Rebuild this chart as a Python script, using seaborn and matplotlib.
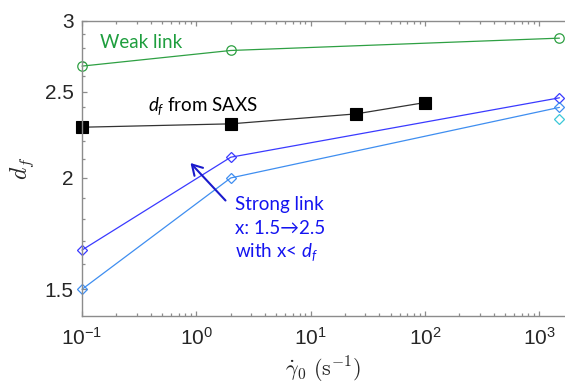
import matplotlib
matplotlib.use("Agg")
import matplotlib.pyplot as plt
import seaborn as sns
from matplotlib.ticker import FixedLocator, FuncFormatter, LogLocator, NullFormatter

# Shear rate (1/s) and fractal dimension values
shear_rate = [0.1, 2, 1500]
weak_link = [2.67, 2.78, 2.87]
saxs_rate = [0.1, 2, 25, 100]
saxs_df = [2.28, 2.30, 2.36, 2.43]
strong_high = [1.66, 2.11, 2.46]
strong_low = [1.50, 2.00, 2.40]
strong_extra_rate = [1500]
strong_extra = [2.33]

y_major = [1.5, 2, 2.5, 3]
y_minor = [1.6, 1.7, 1.8, 1.9, 2.1, 2.2, 2.3, 2.4, 2.6, 2.7, 2.8, 2.9]

sns.set_theme(style="white")
plt.rcParams["font.family"] = ["Liberation Sans", "DejaVu Sans"]
plt.rcParams["mathtext.fontset"] = "custom"
plt.rcParams["mathtext.rm"] = "Lato"
plt.rcParams["mathtext.it"] = "Lato:italic"

W, H = 565, 386
fig = plt.figure(figsize=(W / 100, H / 100), dpi=100)
ax = fig.add_axes([82 / W, 1 - 316 / H, 1 - 82 / W, (316 - 21) / H])
ax.set_xscale("log")
ax.set_yscale("log")

green = "#2ea043"
blue = "#3a3aff"
lightblue = "#3f8ef0"
cyan = "#3cc8d8"

common = dict(ax=ax, errorbar=None, clip_on=False)

sns.lineplot(x=shear_rate, y=weak_link, color=green, lw=0.9, marker="o", ms=6.8,
             mfc="none", mec=green, mew=0.9, **common)
sns.lineplot(x=saxs_rate, y=saxs_df, color="#333333", lw=0.9, marker="s", ms=8.4,
             mfc="black", mec="black", mew=0.8, **common)
sns.lineplot(x=shear_rate, y=strong_high, color=blue, lw=0.9, marker="D", ms=5.0,
             mfc="none", mec=blue, mew=0.9, **common)
sns.lineplot(x=shear_rate, y=strong_low, color=lightblue, lw=0.9, marker="D", ms=5.0,
             mfc="none", mec=lightblue, mew=0.9, **common)
sns.lineplot(x=strong_extra_rate, y=strong_extra, color=cyan, lw=0.9, marker="D", ms=5.0,
             mfc="none", mec=cyan, mew=0.9, **common)

ax.set_xlim(0.1, 10 ** 3.2248)
ax.set_ylim(1.4, 3.0)

ax.xaxis.set_major_locator(LogLocator(base=10, numticks=10))
ax.xaxis.set_minor_locator(LogLocator(base=10, subs=range(2, 10), numticks=50))
ax.xaxis.set_minor_formatter(NullFormatter())
ax.yaxis.set_major_locator(FixedLocator(y_major))
ax.yaxis.set_minor_locator(FixedLocator(y_minor))
ax.yaxis.set_major_formatter(FuncFormatter(lambda v, p: f"{v:g}"))
ax.yaxis.set_minor_formatter(NullFormatter())

spine_col = "#8c8c8c"
for side in ["left", "bottom", "top"]:
    ax.spines[side].set_color(spine_col)
    ax.spines[side].set_linewidth(1.0)
ax.spines["right"].set_visible(False)

ax.tick_params(which="both", direction="in", top=True, right=False, left=True,
               bottom=True, labeltop=False, color=spine_col, width=0.9,
               labelcolor="#262626", labelsize=15)
ax.tick_params(which="major", length=3.5)
ax.tick_params(which="minor", length=2.2)
ax.tick_params(axis="x", which="major", pad=7.5)
ax.tick_params(axis="y", which="major", pad=6)

ax.set_ylabel(r"$d_f$", fontsize=17, math_fontfamily="cm", labelpad=6, color="#262626")
ax.set_xlabel(r"$\dot{\gamma}_0\ (\mathrm{s}^{-1})$", fontsize=16, math_fontfamily="cm",
              labelpad=4.5, color="#262626")

def px(x, y):
    return x / W, 1 - y / H

text_font = ["Lato", "DejaVu Sans"]
fig.text(*px(100, 48), "Weak link", color="#1e9e3e", fontsize=13.5, family=text_font,
         va="baseline")
fig.text(*px(148, 111), r"$d_f$ from SAXS", color="black", fontsize=13.5, family=text_font,
         va="baseline")
strong_col = "#1414f0"
fig.text(*px(235, 210), "Strong link", color=strong_col, fontsize=13.5, family=text_font,
         va="baseline")
fig.text(*px(235, 233.5), "x: 1.5\u21922.5", color=strong_col, fontsize=13.5,
         family=text_font, va="baseline")
fig.text(*px(235, 257), r"with x< $d_f$", color=strong_col, fontsize=13.5,
         family=text_font, va="baseline")
ax.annotate("", xy=px(190.5, 163), xycoords="figure fraction",
            xytext=px(225.5, 200.5), textcoords="figure fraction",
            arrowprops=dict(arrowstyle="->,head_length=0.6,head_width=0.35",
                            color="#1a1acc", lw=1.5, shrinkA=0, shrinkB=0))

fig.savefig("out.png", dpi=100)
